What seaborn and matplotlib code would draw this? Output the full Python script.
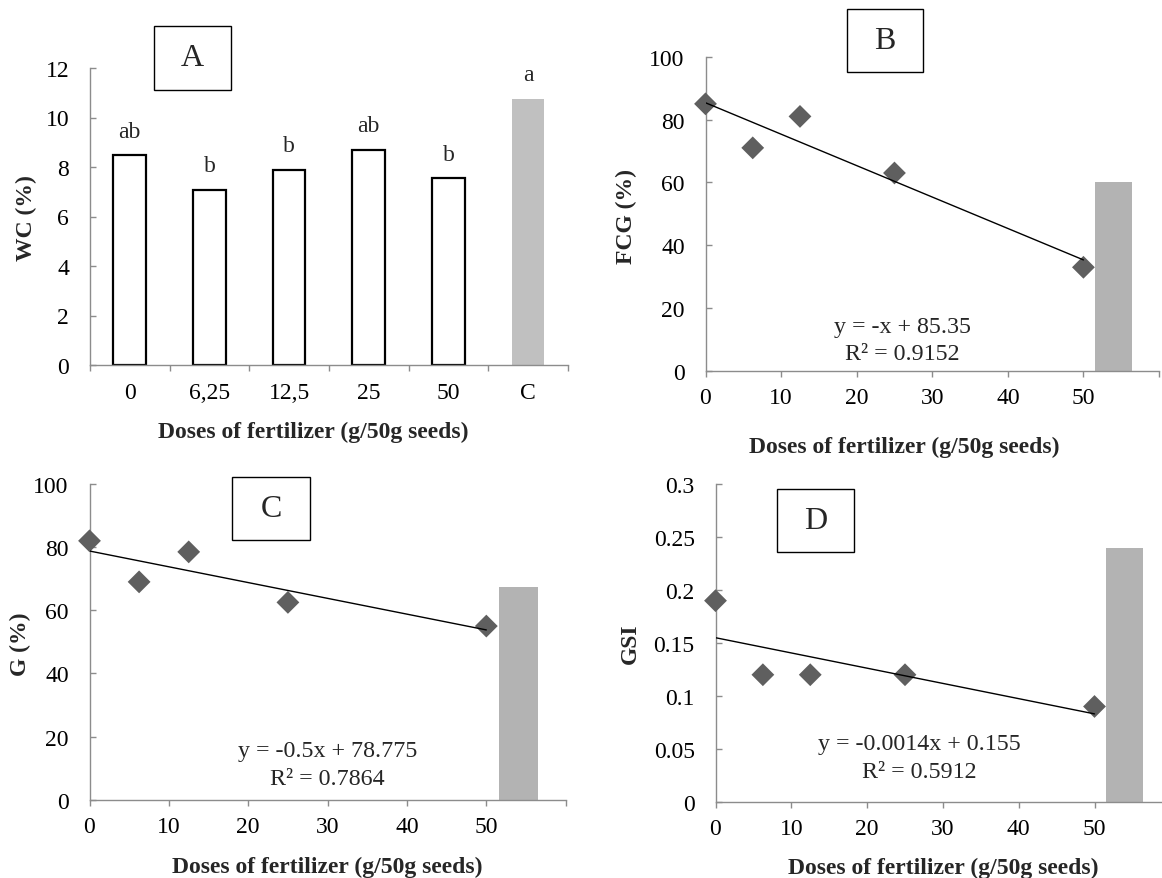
import numpy as np
import pandas as pd
import matplotlib
matplotlib.use("Agg")
import matplotlib.pyplot as plt
from matplotlib.patches import Rectangle
import seaborn as sns

# ---------------- data ----------------
wc_categories = ["0", "6,25", "12,5", "25", "50", "C"]
wc_values = [8.48, 7.08, 7.88, 8.69, 7.54, 10.75]
wc_letters = ["ab", "b", "b", "ab", "b", "a"]

doses = [0, 6.25, 12.5, 25, 50]
fcg_values = [85, 71, 81, 63, 33]
fcg_control = 60
g_values = [82, 69, 78.5, 62.5, 55]
g_control = 67.5
gsi_values = [0.19, 0.12, 0.12, 0.12, 0.09]
gsi_control = 0.24

fcg_eq = ["y = -x + 85.35", "R\u00b2 = 0.9152"]
g_eq = ["y = -0.5x + 78.775", "R\u00b2 = 0.7864"]
gsi_eq = ["y = -0.0014x + 0.155", "R\u00b2 = 0.5912"]

x_ticks = [0, 10, 20, 30, 40, 50]
xlabel = "Doses of fertilizer (g/50g seeds)"

# ---------------- style ----------------
sns.set_theme(style="white")
plt.rcParams["font.family"] = ["Liberation Serif", "DejaVu Serif"]

W, H = 1162, 879
fig = plt.figure(figsize=(W / 100, H / 100), dpi=100)

SPINE = "#8c8c8c"
TICKFS = 17
LABFS = 17
EQFS = 17.3
MARK = "#5f5f5f"
CTRL = "#b3b3b3"


def px_axes(l, r, b, t):
    return fig.add_axes([l / W, 1 - b / H, (r - l) / W, (b - t) / H])


def style_axes(ax):
    for s in ["top", "right"]:
        ax.spines[s].set_visible(False)
    for s in ["left", "bottom"]:
        ax.spines[s].set_color(SPINE)
        ax.spines[s].set_linewidth(1.0)
    ax.tick_params(axis="both", which="both", color=SPINE, length=4.5,
                   width=1.0, labelsize=TICKFS, labelcolor="black",
                   left=True, bottom=True)
    ax.tick_params(axis="y", which="both", direction="in", pad=15)
    ax.tick_params(axis="x", which="both", direction="out", pad=7)
    ax.grid(False)


def box_label(letter, l, r, t, b):
    fig.patches.append(Rectangle((l / W, 1 - b / H), (r - l) / W, (b - t) / H,
                                 transform=fig.transFigure, fill=False,
                                 edgecolor="black", linewidth=1.0))
    fig.text((l + r) / 2 / W, 1 - (t + b) / 2 / H, letter, ha="center",
             va="center", fontsize=23)


def fig_text(x, y, s, **kw):
    fig.text(x / W, 1 - y / H, s, ha="center", va="center", **kw)


# ---------------- Panel A ----------------
axA = px_axes(89.9, 568, 366, 69)
dfA = pd.DataFrame({"dose": wc_categories, "wc": wc_values})
palA = ["white"] * 5 + ["#c0c0c0"]
sns.barplot(data=dfA, x="dose", y="wc", hue="dose", palette=palA, legend=False,
            width=0.41, ax=axA, edgecolor="black", linewidth=1.6)
for p, col in zip(axA.patches, palA):
    if col != "white":
        p.set_edgecolor(col)
        p.set_linewidth(0)
style_axes(axA)
axA.set_xlim(-0.5, 5.5)
axA.set_ylim(0, 12)
axA.set_yticks(range(0, 13, 2))
axA.set_xticks(range(6))
axA.set_xticklabels(wc_categories)
axA.set_xticks(np.arange(-0.5, 6, 1), minor=True)
axA.tick_params(axis="x", which="major", length=0, pad=12)
axA.tick_params(axis="x", which="minor", length=4.5)
axA.set_xlabel("")
axA.set_ylabel("")
for i, (v, lab) in enumerate(zip(wc_values, wc_letters)):
    axA.text(i, v + 0.75, lab, ha="center", va="baseline", fontsize=TICKFS)
fig_text(26, 218, "WC (%)", rotation=90, fontsize=LABFS, fontweight="bold")
fig_text(313, 432, xlabel, fontsize=LABFS, fontweight="bold")
box_label("A", 154.3, 231.2, 27.3, 90.7)


# ---------------- scatter panels ----------------
def scatter_panel(l, r, b, t, yvals, ctrl, ylim, yticks, yfmt):
    ax = px_axes(l, r, b, t)
    df = pd.DataFrame({"dose": doses, "val": yvals})
    ax.bar([54], [ctrl], width=4.9, color=CTRL, edgecolor="none", zorder=1)
    sns.regplot(data=df, x="dose", y="val", ci=None, ax=ax, marker="D",
                scatter_kws={"s": 135, "color": MARK, "edgecolor": "none",
                             "zorder": 3, "alpha": 1},
                line_kws={"color": "black", "linewidth": 1.0, "zorder": 4},
                truncate=True)
    style_axes(ax)
    ax.set_xlim(0, 60)
    ax.set_ylim(*ylim)
    ax.set_yticks(yticks)
    ax.set_yticklabels([yfmt(v) for v in yticks])
    ax.set_xticks(x_ticks + [60])
    ax.set_xticklabels([str(v) for v in x_ticks] + [""])
    ax.set_xlabel("")
    ax.set_ylabel("")
    for c in ax.collections:
        c.set_clip_on(False)
    return ax


def fmt_int(v):
    return f"{int(v)}"


def fmt_gsi(v):
    return f"{v:g}"


# Panel B
scatter_panel(705.5, 1159, 372, 57.7, fcg_values, fcg_control, (0, 100),
              list(range(0, 101, 20)), fmt_int)
fig_text(626, 216, "FCG (%)", rotation=90, fontsize=LABFS, fontweight="bold")
fig_text(904, 447, xlabel, fontsize=LABFS, fontweight="bold")
fig_text(902, 328, fcg_eq[0], fontsize=EQFS)
fig_text(902, 355, fcg_eq[1], fontsize=EQFS)
box_label("B", 846.5, 923.4, 9.7, 73)

# Panel C
scatter_panel(89.5, 565.7, 800.7, 485, g_values, g_control, (0, 100),
              list(range(0, 101, 20)), fmt_int)
fig_text(20, 644, "G (%)", rotation=90, fontsize=LABFS, fontweight="bold")
fig_text(327, 867, xlabel, fontsize=LABFS, fontweight="bold")
fig_text(327.6, 752, g_eq[0], fontsize=EQFS)
fig_text(327.6, 780, g_eq[1], fontsize=EQFS)
box_label("C", 232.4, 310.3, 478.3, 541)

# Panel D
scatter_panel(715.5, 1170.3, 802.7, 485.3, gsi_values, gsi_control, (0, 0.3),
              [0, 0.05, 0.1, 0.15, 0.2, 0.25, 0.3], fmt_gsi)
fig_text(630, 644, "GSI", rotation=90, fontsize=LABFS, fontweight="bold")
fig_text(943, 868, xlabel, fontsize=LABFS, fontweight="bold")
fig_text(919.6, 745, gsi_eq[0], fontsize=EQFS)
fig_text(919.6, 773, gsi_eq[1], fontsize=EQFS)
box_label("D", 776.7, 854.3, 490, 553)

fig.savefig("out.png", dpi=100, facecolor="white")
